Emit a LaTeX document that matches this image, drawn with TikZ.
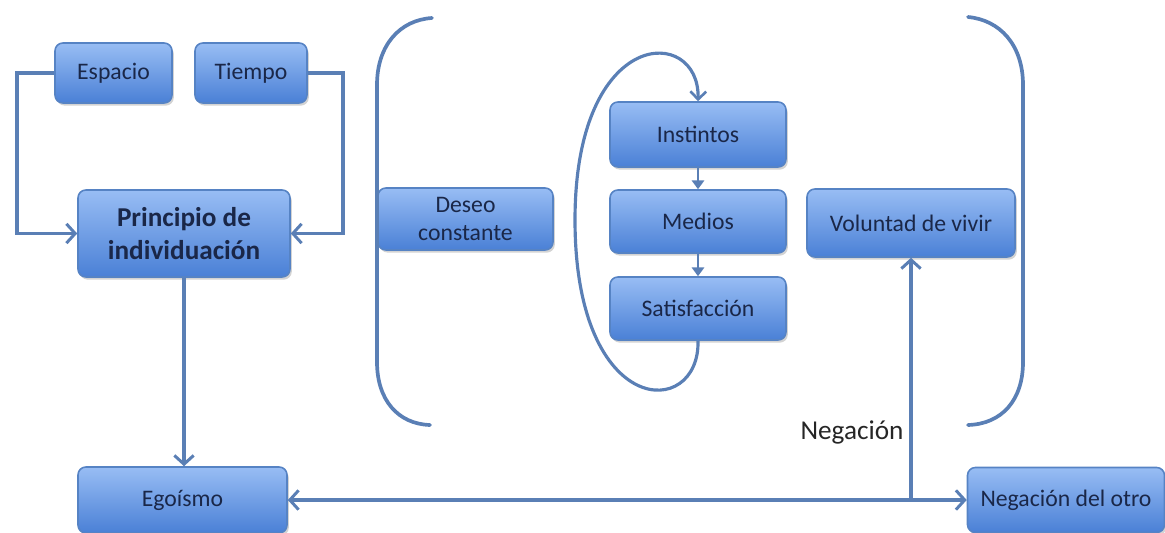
\documentclass[tikz,border=0pt]{standalone}
\usepackage{fontspec}
\setmainfont{Carlito}
\usetikzlibrary{arrows.meta,shadows}
\definecolor{boxtop}{HTML}{98BDF4}
\definecolor{boxbot}{HTML}{4A80D6}
\definecolor{boxline}{HTML}{5683C4}
\definecolor{linec}{HTML}{5A7FB5}
\definecolor{txt}{HTML}{1A2748}
\tikzset{
  bx/.style={draw=boxline, line width=0.9pt, rounded corners=4.5pt,
    top color=boxtop, bottom color=boxbot, text=txt, align=center,
    font=\fontsize{13.5}{16}\selectfont,
    drop shadow={shadow xshift=1pt, shadow yshift=-1.5pt, opacity=0.35, fill=black!50},
    inner sep=0pt},
  conn/.style={draw=linec, line width=2pt},
  arr/.style={conn, -{Straight Barb[length=5pt,width=11pt,line width=1.7pt]}},
  arrs/.style={conn, line width=1.6pt, -{Triangle[length=5pt,width=7pt]}},
  darr/.style={conn, {Straight Barb[length=5pt,width=11pt,line width=1.7pt]}-{Straight Barb[length=5pt,width=11pt,line width=1.7pt]}},
  brk/.style={draw=linec, line width=2.1pt, line cap=round},
}
\begin{document}
\begin{tikzpicture}[x=0.02cm,y=-0.02cm]
\useasboundingbox (0,0) rectangle (1165,533);
% nodes
\node[bx, minimum width=117*0.02cm, minimum height=60*0.02cm] (esp) at (113.5,73) {Espacio};
\node[bx, minimum width=112*0.02cm, minimum height=60*0.02cm] (tie) at (251,73) {Tiempo};
\node[bx, minimum width=212*0.02cm, minimum height=87*0.02cm, font=\fontsize{15.5}{19}\selectfont\bfseries] (pri) at (184,233.5) {Principio de\\individuación};
\node[bx, minimum width=209*0.02cm, minimum height=66*0.02cm] (ego) at (182.5,500) {Egoísmo};
\node[bx, minimum width=197*0.02cm, minimum height=65*0.02cm] (neg) at (1066,500) {Negación del otro};
\node[bx, minimum width=175*0.02cm, minimum height=62*0.02cm] (des) at (465.5,219) {Deseo\\constante};
\node[bx, minimum width=176*0.02cm, minimum height=65*0.02cm] (ins) at (698,134.5) {Instintos};
\node[bx, minimum width=176*0.02cm, minimum height=63*0.02cm] (med) at (698,221.5) {Medios};
\node[bx, minimum width=176*0.02cm, minimum height=63*0.02cm] (sat) at (698,308.5) {Satisfacción};
\node[bx, minimum width=208*0.02cm, minimum height=68*0.02cm] (vol) at (911,223) {Voluntad de vivir};
\node[text=black!85, font=\fontsize{15.5}{18}\selectfont] (lneg) at (852,432) {Negación};
% connectors
\draw[arr] (esp.west) -- ++(-37,0) |- (pri.west);
\draw[arr] (tie.east) -- ++(35,0) |- (pri.east);
\draw[arr] (pri.south) -- (pri.south |- ego.north);
\draw[darr] (ego.east) -- (neg.west);
\coordinate (jn) at (vol.south |- ego.east);
\draw[arr] (jn) -- (vol.south);
\draw[arrs] (ins.south) -- (med.north);
\draw[arrs] (med.south) -- (sat.north);
\draw[conn, line width=1.8pt, -{Straight Barb[length=4.5pt,width=9pt,line width=1.5pt]}]
  (sat.south) .. controls (700,420) and (575,420) .. (575,220)
  .. controls (575,25) and (700,25) .. (ins.north);
% brackets
\draw[brk] (432,18) .. controls (400,20) and (377,45) .. (377,85) -- (377,362)
  .. controls (377,400) and (398,424) .. (430,425);
\draw[brk] (968,17) .. controls (1000,20) and (1023,45) .. (1023,85) -- (1023,362)
  .. controls (1023,400) and (1002,424) .. (968,425);
\end{tikzpicture}
\end{document}
